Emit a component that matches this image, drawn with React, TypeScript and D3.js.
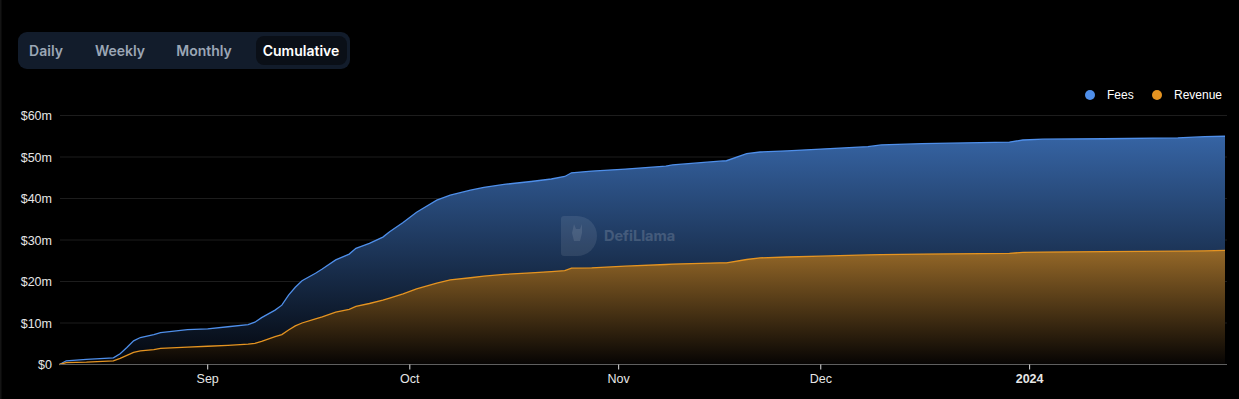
import React from 'react';
import * as d3 from 'd3';

// cumulative fees / revenue, $m
const dates = [
  '2023-08-10', '2023-08-11', '2023-08-14', '2023-08-18', '2023-08-19', '2023-08-20', '2023-08-21',
  '2023-08-22', '2023-08-24', '2023-08-25', '2023-08-29', '2023-09-01', '2023-09-04', '2023-09-07',
  '2023-09-08', '2023-09-09', '2023-09-11', '2023-09-12', '2023-09-13', '2023-09-14', '2023-09-15',
  '2023-09-17', '2023-09-18', '2023-09-20', '2023-09-22', '2023-09-23', '2023-09-25', '2023-09-27',
  '2023-09-28', '2023-09-30', '2023-10-02', '2023-10-05', '2023-10-07', '2023-10-10', '2023-10-12',
  '2023-10-15', '2023-10-19', '2023-10-22', '2023-10-24', '2023-10-25', '2023-10-28', '2023-11-02',
  '2023-11-08', '2023-11-09', '2023-11-16', '2023-11-17', '2023-11-20', '2023-11-22', '2023-11-26',
  '2023-12-01', '2023-12-08', '2023-12-10', '2023-12-16', '2023-12-29', '2023-12-31', '2024-01-03',
  '2024-01-12', '2024-01-23', '2024-01-27', '2024-01-30',
];
const fees = [
  0, 0.9, 1.25, 1.6, 2.6, 4.1, 5.7,
  6.5, 7.2, 7.7, 8.4, 8.6, 9.1, 9.6,
  10.2, 11.3, 13.1, 14.3, 16.7, 18.6, 20.2,
  22.0, 23.0, 25.2, 26.6, 28.0, 29.2, 30.7,
  32.0, 34.2, 36.7, 39.6, 40.8, 42.0, 42.7,
  43.4, 44.1, 44.7, 45.3, 46.2, 46.6, 47.1,
  47.8, 48.1, 49.0, 49.1, 50.8, 51.2, 51.5,
  51.9, 52.5, 52.9, 53.2, 53.6, 54.1, 54.3,
  54.4, 54.6, 54.9, 55.0,
];
const revenue = [
  0, 0.45, 0.55, 0.85, 1.5, 2.2, 2.9,
  3.3, 3.6, 3.9, 4.2, 4.4, 4.6, 4.9,
  5.1, 5.6, 6.7, 7.2, 8.3, 9.3, 10.0,
  11.0, 11.5, 12.6, 13.3, 14.0, 14.7, 15.5,
  16.0, 17.0, 18.2, 19.6, 20.4, 20.9, 21.3,
  21.7, 22.1, 22.4, 22.6, 23.2, 23.3, 23.7,
  24.1, 24.2, 24.5, 24.5, 25.3, 25.7, 25.9,
  26.1, 26.4, 26.5, 26.6, 26.8, 27.0, 27.1,
  27.2, 27.3, 27.4, 27.5,
];
const yTicks = [0, 10, 20, 30, 40, 50, 60];
const tabs = ['Daily', 'Weekly', 'Monthly', 'Cumulative'];
const legend = [
  { name: 'Fees', color: '#4f8fea' },
  { name: 'Revenue', color: '#e59421' },
];

const W = 1239;
const H = 399;
const left = 60;
const right = 1226;
const top = 115.5;
const bottom = 364.5;

const parse = d3.timeParse('%Y-%m-%d');

export default function App() {
  const days = dates.map((d) => parse(d) as Date);
  const x = d3.scaleTime().domain([days[0], days[days.length - 1]]).range([59.5, 1225]);
  const y = d3.scaleLinear().domain([0, 60]).range([bottom, top]);

  const area = d3.area<number>()
    .x((_, i) => x(days[i]))
    .y0(bottom)
    .y1((v) => y(v));
  const line = d3.line<number>()
    .x((_, i) => x(days[i]))
    .y((v) => y(v));

  const monthTicks = d3.timeMonth.range(new Date(2023, 8, 1), new Date(2024, 0, 2));
  const fmt = (d: Date) => (d.getMonth() === 0 ? String(d.getFullYear()) : d3.timeFormat('%b')(d));

  const feesTop = y(d3.max(fees) as number);
  const revTop = y(d3.max(revenue) as number);

  const tabX = [46, 120, 204, 301];

  return (
    <div style={{ position: 'fixed', inset: 0, background: '#000' }}>
      <svg width={W} height={H} style={{ display: 'block' }}>
        <defs>
          <linearGradient id="feesGrad" gradientUnits="userSpaceOnUse" x1={0} y1={feesTop} x2={0} y2={bottom}>
            <stop offset="0%" stopColor="#3664a4" />
            <stop offset="100%" stopColor="#03060c" />
          </linearGradient>
          <linearGradient id="revGrad" gradientUnits="userSpaceOnUse" x1={0} y1={revTop} x2={0} y2={bottom}>
            <stop offset="0%" stopColor="#956828" />
            <stop offset="100%" stopColor="#060403" />
          </linearGradient>
        </defs>
        <rect x={0} y={0} width={W} height={H} fill="#000" />
        <rect x={0} y={0} width={1.5} height={H} fill="#141414" />

        {/* tab switcher */}
        <rect x={18} y={32} width={332} height={37} rx={9} fill="#121c2b" />
        <rect x={256} y={36} width={91} height={29} rx={8} fill="#0a0f17" />
        {tabs.map((t, i) => (
          <text
            key={t}
            x={tabX[i]}
            y={56}
            textAnchor="middle"
            fontFamily="Inter, sans-serif"
            fontWeight={600}
            fontSize={14}
            fill={i === 3 ? '#ffffff' : '#9ba6b5'}
          >
            {t}
          </text>
        ))}

        {/* legend */}
        <g fontFamily="'Liberation Sans', Arial, sans-serif" fontSize={12} fill="#ffffff">
          <circle cx={1090} cy={95} r={5} fill={legend[0].color} />
          <text x={1107} y={99}>{legend[0].name}</text>
          <circle cx={1157} cy={95} r={5} fill={legend[1].color} />
          <text x={1174} y={99}>{legend[1].name}</text>
        </g>

        {/* grid + y axis */}
        {yTicks.map((t) => (
          <g key={t}>
            {t > 0 && <line x1={left} x2={right + 1} y1={y(t)} y2={y(t)} stroke="#1d1d1d" strokeWidth={1} />}
            <text
              x={52}
              y={y(t) + 4.5}
              textAnchor="end"
              fontFamily="'Liberation Sans', Arial, sans-serif"
              fontSize={12.5}
              fill="#e6e6e6"
            >
              {`$${t === 0 ? '0' : t + 'm'}`}
            </text>
          </g>
        ))}

        {/* series */}
        <path d={area(fees) || ''} fill="url(#feesGrad)" />
        <path d={area(revenue) || ''} fill="url(#revGrad)" />
        <path d={line(fees) || ''} fill="none" stroke="#4f8fea" strokeWidth={1.3} />
        <path d={line(revenue) || ''} fill="none" stroke="#e59421" strokeWidth={1.3} />

        {/* watermark */}
        <g>
          <path
            d="M564,216 h13 a20,20 0 0 1 0,40 h-13 a3,3 0 0 1 -3,-3 v-34 a3,3 0 0 1 3,-3 z"
            fill="#ffffff"
            opacity={0.09}
          />
          <path
            d="M574,224 l2,5 h4 l2,-5 l0,9 l-2,8 h-6 l-2,-8 z"
            fill="#ffffff"
            opacity={0.1}
          />
          <text x={604} y={241} fontFamily="Inter, sans-serif" fontWeight={700} fontSize={14.5} fill="#ffffff" opacity={0.16}>
            DefiLlama
          </text>
        </g>

        {/* x axis */}
        <line x1={left} x2={right + 1} y1={bottom} y2={bottom} stroke="#5f5f5f" strokeWidth={1} />
        {monthTicks.map((d) => (
          <g key={d.toISOString()}>
            <line x1={x(d)} x2={x(d)} y1={bottom} y2={bottom + 5} stroke="#e0e0e0" strokeWidth={1} />
            <text
              x={x(d)}
              y={383}
              textAnchor="middle"
              fontFamily="'Liberation Sans', Arial, sans-serif"
              fontSize={12.5}
              fontWeight={d.getMonth() === 0 ? 700 : 400}
              fill="#e6e6e6"
            >
              {fmt(d)}
            </text>
          </g>
        ))}
      </svg>
    </div>
  );
}
